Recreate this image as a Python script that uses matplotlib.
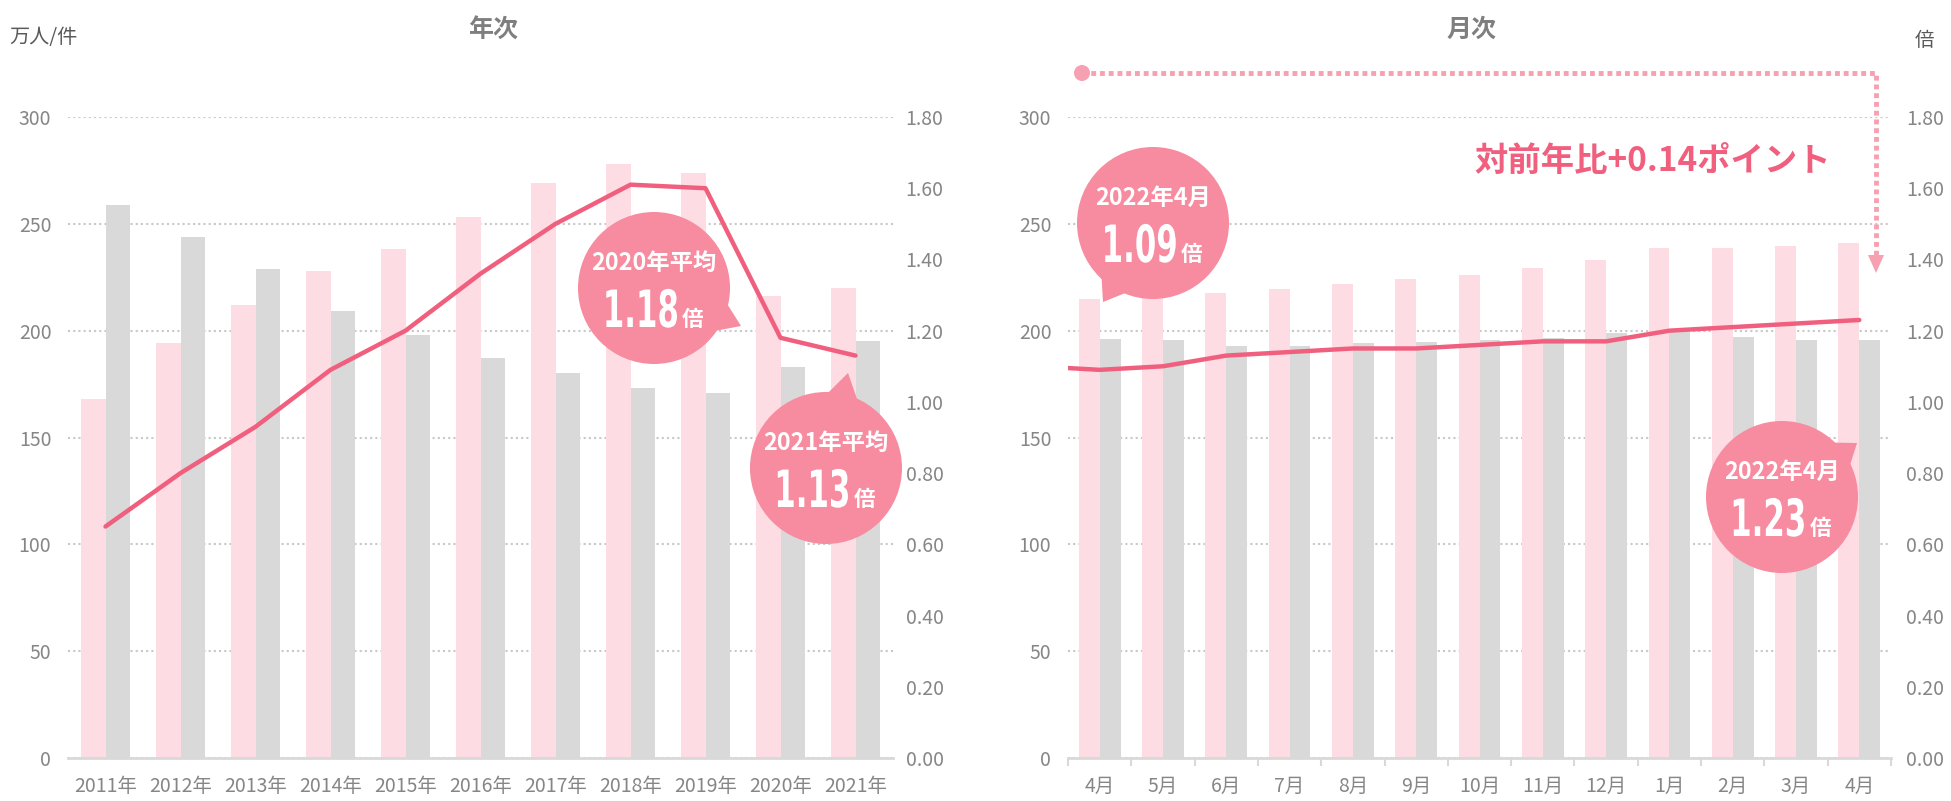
import matplotlib
matplotlib.use('Agg')
import matplotlib.pyplot as plt
import numpy as np
from matplotlib.patches import Circle, Polygon
from matplotlib.patheffects import AbstractPathEffect
from matplotlib.transforms import Affine2D

plt.rcParams['font.family'] = ['Noto Sans CJK JP', 'DejaVu Sans']

# ---------------- data ----------------
years = ['2011年', '2012年', '2013年', '2014年', '2015年', '2016年',
         '2017年', '2018年', '2019年', '2020年', '2021年']
year_openings = [168, 194, 212, 228, 238, 253, 269, 278, 274, 216, 220]   # 求人数 (万件)
year_seekers = [259, 244, 229, 209, 198, 187, 180, 173, 171, 183, 195]    # 求職者数 (万人)
year_ratio = [0.65, 0.80, 0.93, 1.09, 1.20, 1.36, 1.50, 1.61, 1.60, 1.18, 1.13]

months = ['4月', '5月', '6月', '7月', '8月', '9月', '10月', '11月', '12月',
          '1月', '2月', '3月', '4月']
month_openings = [215, 216, 217.5, 219.5, 222, 224, 226, 229.5, 233, 238.5, 238.5, 239.5, 241]
month_seekers = [196, 195.5, 193, 193, 194, 194.5, 195.5, 196.5, 199, 200.5, 197, 195.5, 195.5]
month_ratio_prev = 1.10   # previous month (clipped at the axis edge)
month_ratio = [1.09, 1.10, 1.13, 1.14, 1.15, 1.15, 1.16, 1.17, 1.17, 1.20, 1.21, 1.22, 1.23]

left_ticks = [0, 50, 100, 150, 200, 250, 300]
right_ticks = [0.0, 0.2, 0.4, 0.6, 0.8, 1.0, 1.2, 1.4, 1.6, 1.8]

# ---------------- style ----------------
PINK = '#fddce3'
GRAY = '#d9d9d9'
LINE = '#f0607e'
BUB = '#f78b9f'
ARW = '#f7a0b2'
GRID = '#c8c8c8'
TICK = '#868686'

W, H = 1951, 801
fig = plt.figure(figsize=(W / 100, H / 100), dpi=100)


class Squeeze(AbstractPathEffect):
    """Compress text horizontally (condensed look)."""
    def __init__(self, sx=0.65, anchor='center'):
        super().__init__()
        self.sx = sx
        self.anchor = anchor

    def draw_path(self, renderer, gc, tpath, affine, rgbFace=None):
        ext = tpath.transformed(affine).get_extents()
        if self.anchor == 'right':
            cx = ext.x1
        elif self.anchor == 'left':
            cx = ext.x0
        else:
            cx = 0.5 * (ext.x0 + ext.x1)
        t = affine + Affine2D().translate(-cx, 0).scale(self.sx, 1).translate(cx, 0)
        renderer.draw_path(gc, tpath, t, rgbFace)


def px_axes(x0, x1, ytop, ybot):
    return fig.add_axes([x0 / W, 1 - ybot / H, (x1 - x0) / W, (ybot - ytop) / H])


def make_chart(ax, cats, openings, seekers, ratio, title, title_x, rpad,
               prev=None, boundary_ticks=False):
    x = np.arange(len(cats))
    bw = 0.33
    ax.bar(x - bw / 2, openings, width=bw, color=PINK, zorder=2, linewidth=0)
    ax.bar(x + bw / 2, seekers, width=bw, color=GRAY, zorder=2, linewidth=0)
    ax.set_xlim(-0.5, len(cats) - 0.5)
    ax.set_ylim(0, 300)
    ax.set_yticks(left_ticks)
    ax.set_yticklabels([str(v) for v in left_ticks])
    ax.set_xticks(x)
    ax.set_xticklabels(cats)
    ax.yaxis.grid(True, color=GRID, linewidth=1.5, linestyle=(0, (1, 1.5)))
    ax.set_axisbelow(True)
    for s in ['top', 'left', 'right']:
        ax.spines[s].set_visible(False)
    ax.spines['bottom'].set_color('#d9d9d9')
    ax.spines['bottom'].set_linewidth(2)
    ax.tick_params(axis='y', length=0, pad=12, labelsize=14, labelcolor=TICK)
    ax.tick_params(axis='x', length=0, pad=13, labelsize=14, labelcolor=TICK)
    if boundary_ticks:
        ax.set_xticks(np.arange(-0.5, len(cats), 1.0), minor=True)
        ax.tick_params(axis='x', which='minor', length=6, width=1.5, color='#d9d9d9',
                       direction='out')
    ax.set_title(title, x=title_x, pad=58, fontsize=18, fontweight='bold', color='#7f7f7f')

    ax2 = ax.twinx()
    ax2.set_ylim(0, 1.8)
    ax2.set_yticks(right_ticks)
    ax2.set_yticklabels([f'{v:.2f}' for v in right_ticks])
    for s in ax2.spines.values():
        s.set_visible(False)
    ax2.tick_params(axis='y', length=0, pad=rpad, labelsize=14, labelcolor=TICK)
    if prev is not None:
        lx = np.concatenate([[-1], x])
        ly = [prev] + list(ratio)
    else:
        lx, ly = x, ratio
    ax2.plot(lx, ly, color=LINE, linewidth=3.2, solid_capstyle='round',
             solid_joinstyle='round', zorder=3)
    return ax2


axL = px_axes(68, 893, 117, 758)
axM = px_axes(1068, 1891, 117, 758)
make_chart(axL, years, year_openings, year_seekers, year_ratio, '年次', 0.515, 9)
make_chart(axM, months, month_openings, month_seekers, month_ratio, '月次', 0.49, 11,
           prev=month_ratio_prev, boundary_ticks=True)

# ---------------- overlay annotations (pixel coords, y down) ----------------
ov = fig.add_axes([0, 0, 1, 1], zorder=10)
ov.set_xlim(0, W)
ov.set_ylim(H, 0)
ov.axis('off')

ov.text(9, 37, '万人/件', ha='left', va='center', fontsize=14.5, color='#595959')
ov.text(1924, 40, '倍', ha='center', va='center', fontsize=14, color='#595959')


def bubble(cx, cy, tipx, tipy, label, number, r=76):
    th = np.arctan2(tipy - cy, tipx - cx)
    d = 0.3
    p1 = (cx + r * 0.9 * np.cos(th - d), cy + r * 0.9 * np.sin(th - d))
    p2 = (cx + r * 0.9 * np.cos(th + d), cy + r * 0.9 * np.sin(th + d))
    ov.add_patch(Polygon([p1, (tipx, tipy), p2], closed=True, facecolor=BUB,
                         edgecolor='none'))
    ov.add_patch(Circle((cx, cy), r, facecolor=BUB, edgecolor='none'))
    ov.text(cx, cy - 25, label, ha='center', va='center', color='white',
            fontsize=16.8, fontweight='bold')
    ov.text(cx + 26, cy + 39, number, ha='right', va='baseline', color='white',
            fontsize=37, fontweight='bold', family='DejaVu Sans',
            path_effects=[Squeeze(0.6, 'right')])
    ov.text(cx + 28, cy + 38, '倍', ha='left', va='baseline', color='white',
            fontsize=15.5, fontweight='bold')


bubble(654, 288, 741, 326, '2020年平均', '1.18')
bubble(826, 468, 848, 373, '2021年平均', '1.13')
bubble(1153, 223, 1103, 302, '2022年4月', '1.09')
bubble(1782, 497, 1857, 443, '2022年4月', '1.23')

# dotted arrow
ov.plot([1082, 1876, 1876], [73, 73, 256], color=ARW, linewidth=3.5,
        linestyle=(0, (1, 0.8)), dash_capstyle='butt')
ov.add_patch(Circle((1082, 73), 8, facecolor=ARW, edgecolor='none'))
ov.add_patch(Polygon([(1868, 255), (1884, 255), (1876, 273)], closed=True,
                     facecolor=ARW, edgecolor='none'))

ov.text(1653, 161, '対前年比+0.14ポイント', ha='center', va='center', fontsize=24,
        fontweight='bold', color=LINE)

fig.savefig('out.png', dpi=100)
